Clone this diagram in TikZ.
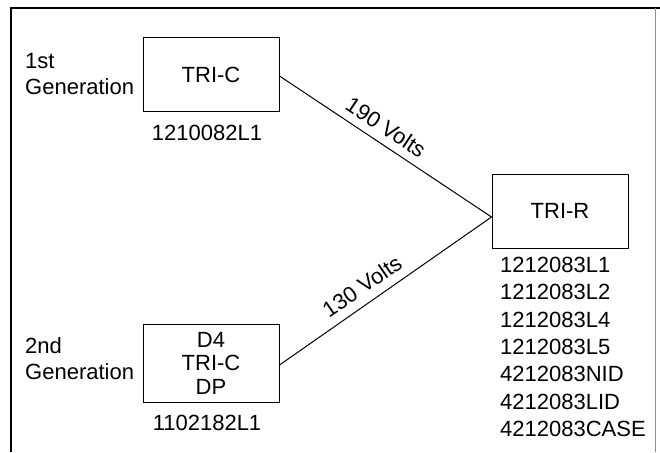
\documentclass[tikz,border=0pt]{standalone}
\usepackage{fontspec}
\setmainfont{Liberation Sans}
\usetikzlibrary{calc}
\begin{document}
\begin{tikzpicture}[x=1pt,y=-1pt,
  box/.style={draw, line width=1pt, minimum width=136pt, inner sep=0pt, align=center, font=\fontsize{22}{23.5}\selectfont},
  lbl/.style={inner sep=0pt, align=left, font=\fontsize{22}{26.5}\selectfont},
  wire/.style={draw, line width=1pt},
  volt/.style={inner sep=0pt, font=\fontsize{22}{26}\selectfont}]
\useasboundingbox (0,0) rectangle (660,452);
% frame
\draw[line width=1.6pt] (11,452) -- (11,8) -- (660,8);
\draw[line width=0.8pt, black!45] (655,8) -- (655,452);
% boxes
\node[box, minimum height=73pt] (c1) at (211,74.5) {TRI-C};
\node[box, minimum height=74pt] (r) at (560,211) {TRI-R};
\node[box, minimum height=78pt] (c2) at (211,363) {D4\\TRI-C\\DP};
% labels
\node[lbl, anchor=north west] (g1) at (25,53) {1st\\Generation};
\node[lbl, anchor=north west] (g2) at (25,337) {2nd\\Generation};
\node[lbl] (p1) at (207,133) {1210082L1};
\node[lbl] (p2) at (207,423) {1102182L1};
\node[lbl, anchor=north west, font=\fontsize{22}{27.3}\selectfont] (plist) at (500,257) {1212083L1\\1212083L2\\1212083L4\\1212083L5\\4212083NID\\4212083LID\\4212083CASE};
% connectors
\coordinate (m) at ($(r.west)+(0,6)$);
\draw[wire] ($(c1.east)+(0,1.5)$) -- (m);
\draw[wire] ($(c2.east)+(0,2)$) -- (m);
\node[volt, rotate=-33.5] (v1) at (386,127) {190 Volts};
\node[volt, rotate=34.6] (v2) at (362,286) {130 Volts};
\end{tikzpicture}
\end{document}
